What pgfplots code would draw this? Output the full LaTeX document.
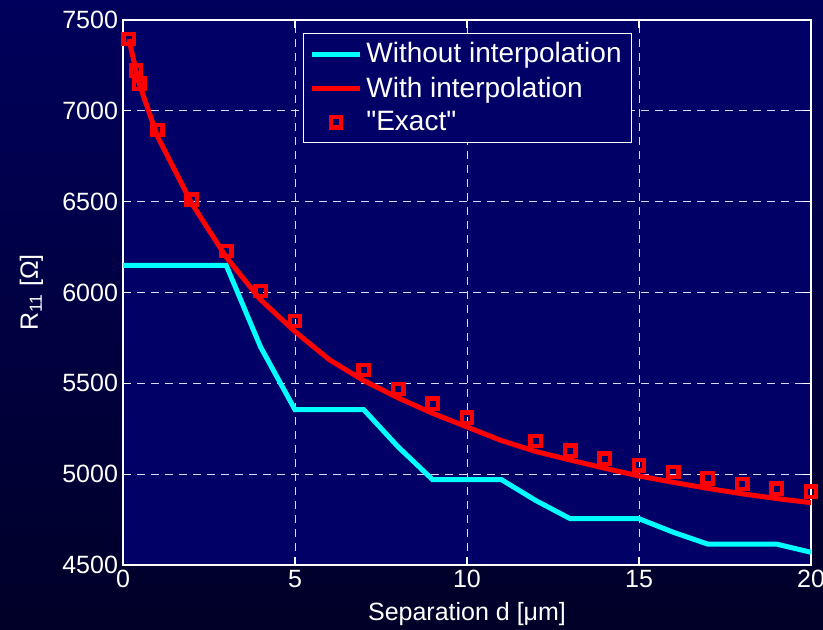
\documentclass[border=0pt]{standalone}
\usepackage{pgfplots}
\pgfplotsset{compat=1.18}
\usepackage{fontspec}
\setmainfont{Liberation Sans}
\newfontfamily\qfont{Liberation Sans}
\definecolor{plotbg}{RGB}{0,0,102}
\definecolor{bgtop}{RGB}{0,0,92}
\definecolor{bgbot}{RGB}{0,0,40}
\definecolor{mcyan}{RGB}{0,255,255}
\definecolor{mred}{RGB}{255,0,0}
\begin{document}
\begin{tikzpicture}
\shade[top color=bgtop, bottom color=bgbot] (-61.5pt,-32pt) rectangle (350pt,282.5pt);
\useasboundingbox (-61.5pt,-32pt) rectangle (350pt,282.5pt);
\begin{axis}[
  at={(0,0)}, anchor=south west,
  scale only axis, width=344pt, height=272.5pt,
  xmin=0, xmax=20, ymin=4500, ymax=7500,
  xtick={0,5,10,15,20}, ytick={4500,5000,5500,6000,6500,7000,7500},
  axis background/.style={fill=plotbg},
  axis line style={white, line width=0.8pt},
  tick style={white, line width=0.6pt},
  major tick length=4pt,
  tick align=inside,
  grid=major,
  major grid style={white!85!blue, dashed, dash pattern=on 4pt off 3pt, line width=0.5pt},
  ticklabel style={white, font=\fontsize{12.5}{14}\selectfont},
  /pgf/number format/assume math mode=true,
  /pgf/number format/set thousands separator={},
  xticklabel style={yshift=1pt},
  yticklabel style={xshift=1pt},
  xlabel={Separation d [μm]},
  ylabel={R\textsubscript{11} [Ω]},
  label style={white, font=\fontsize{12.5}{14}\selectfont},
  xlabel style={at={(axis description cs:0.5,0)}, anchor=base, yshift=-27.5pt},
  ylabel style={at={(axis description cs:0,0.5)}, anchor=base, rotate=0, yshift=42.5pt},
  legend style={at={(rel axis cs:0.2616,0.976)}, anchor=north west,
    draw=white, fill=plotbg, text=white, line width=0.6pt,
    font=\fontsize{14}{16}\selectfont, row sep=1.5pt, inner xsep=3pt, inner ysep=2.5pt},
  legend cell align=left,
  legend image code/.code={\draw[mark repeat=2,mark phase=2,#1] plot coordinates {(0cm,0cm) (0.42cm,0cm) (0.84cm,0cm)};},
]
\addplot[mcyan, line width=2.5pt, no marks] coordinates {
(0,6150) (3,6150) (4,5700) (5,5355) (7,5355) (8,5150) (9,4970) (11,4970)
(12,4855) (13,4755) (15,4755) (16,4680) (17,4615) (19,4615) (20,4570)};
\addlegendentry{Without interpolation}
\addplot[mred, line width=2.5pt, no marks] coordinates {
(0.17,7395) (0.38,7220) (0.47,7150) (1,6860) (2,6490) (3,6195) (4,5960) (5,5785)
(6,5630) (7,5515) (8,5420) (9,5335) (10,5260) (11,5185) (12,5125) (13,5078)
(14,5033) (15,4990) (16,4955) (17,4922) (18,4892) (19,4866) (20,4843)};
\addlegendentry{With interpolation}
\addplot[only marks, mark=square, mark size=2.6pt, mark options={mred, line width=2.2pt}] coordinates {
(0.17,7395) (0.38,7220) (0.47,7150) (1,6895) (2,6510) (3,6229) (4,6008) (5,5843)
(7,5574) (8,5469) (9,5387) (10,5311) (12,5183) (13,5130) (14,5086) (15,5048)
(16,5012) (17,4977) (18,4946) (19,4920) (20,4903)};
\addlegendentry{{\qfont "Exact"}}
\end{axis}
\end{tikzpicture}
\end{document}
